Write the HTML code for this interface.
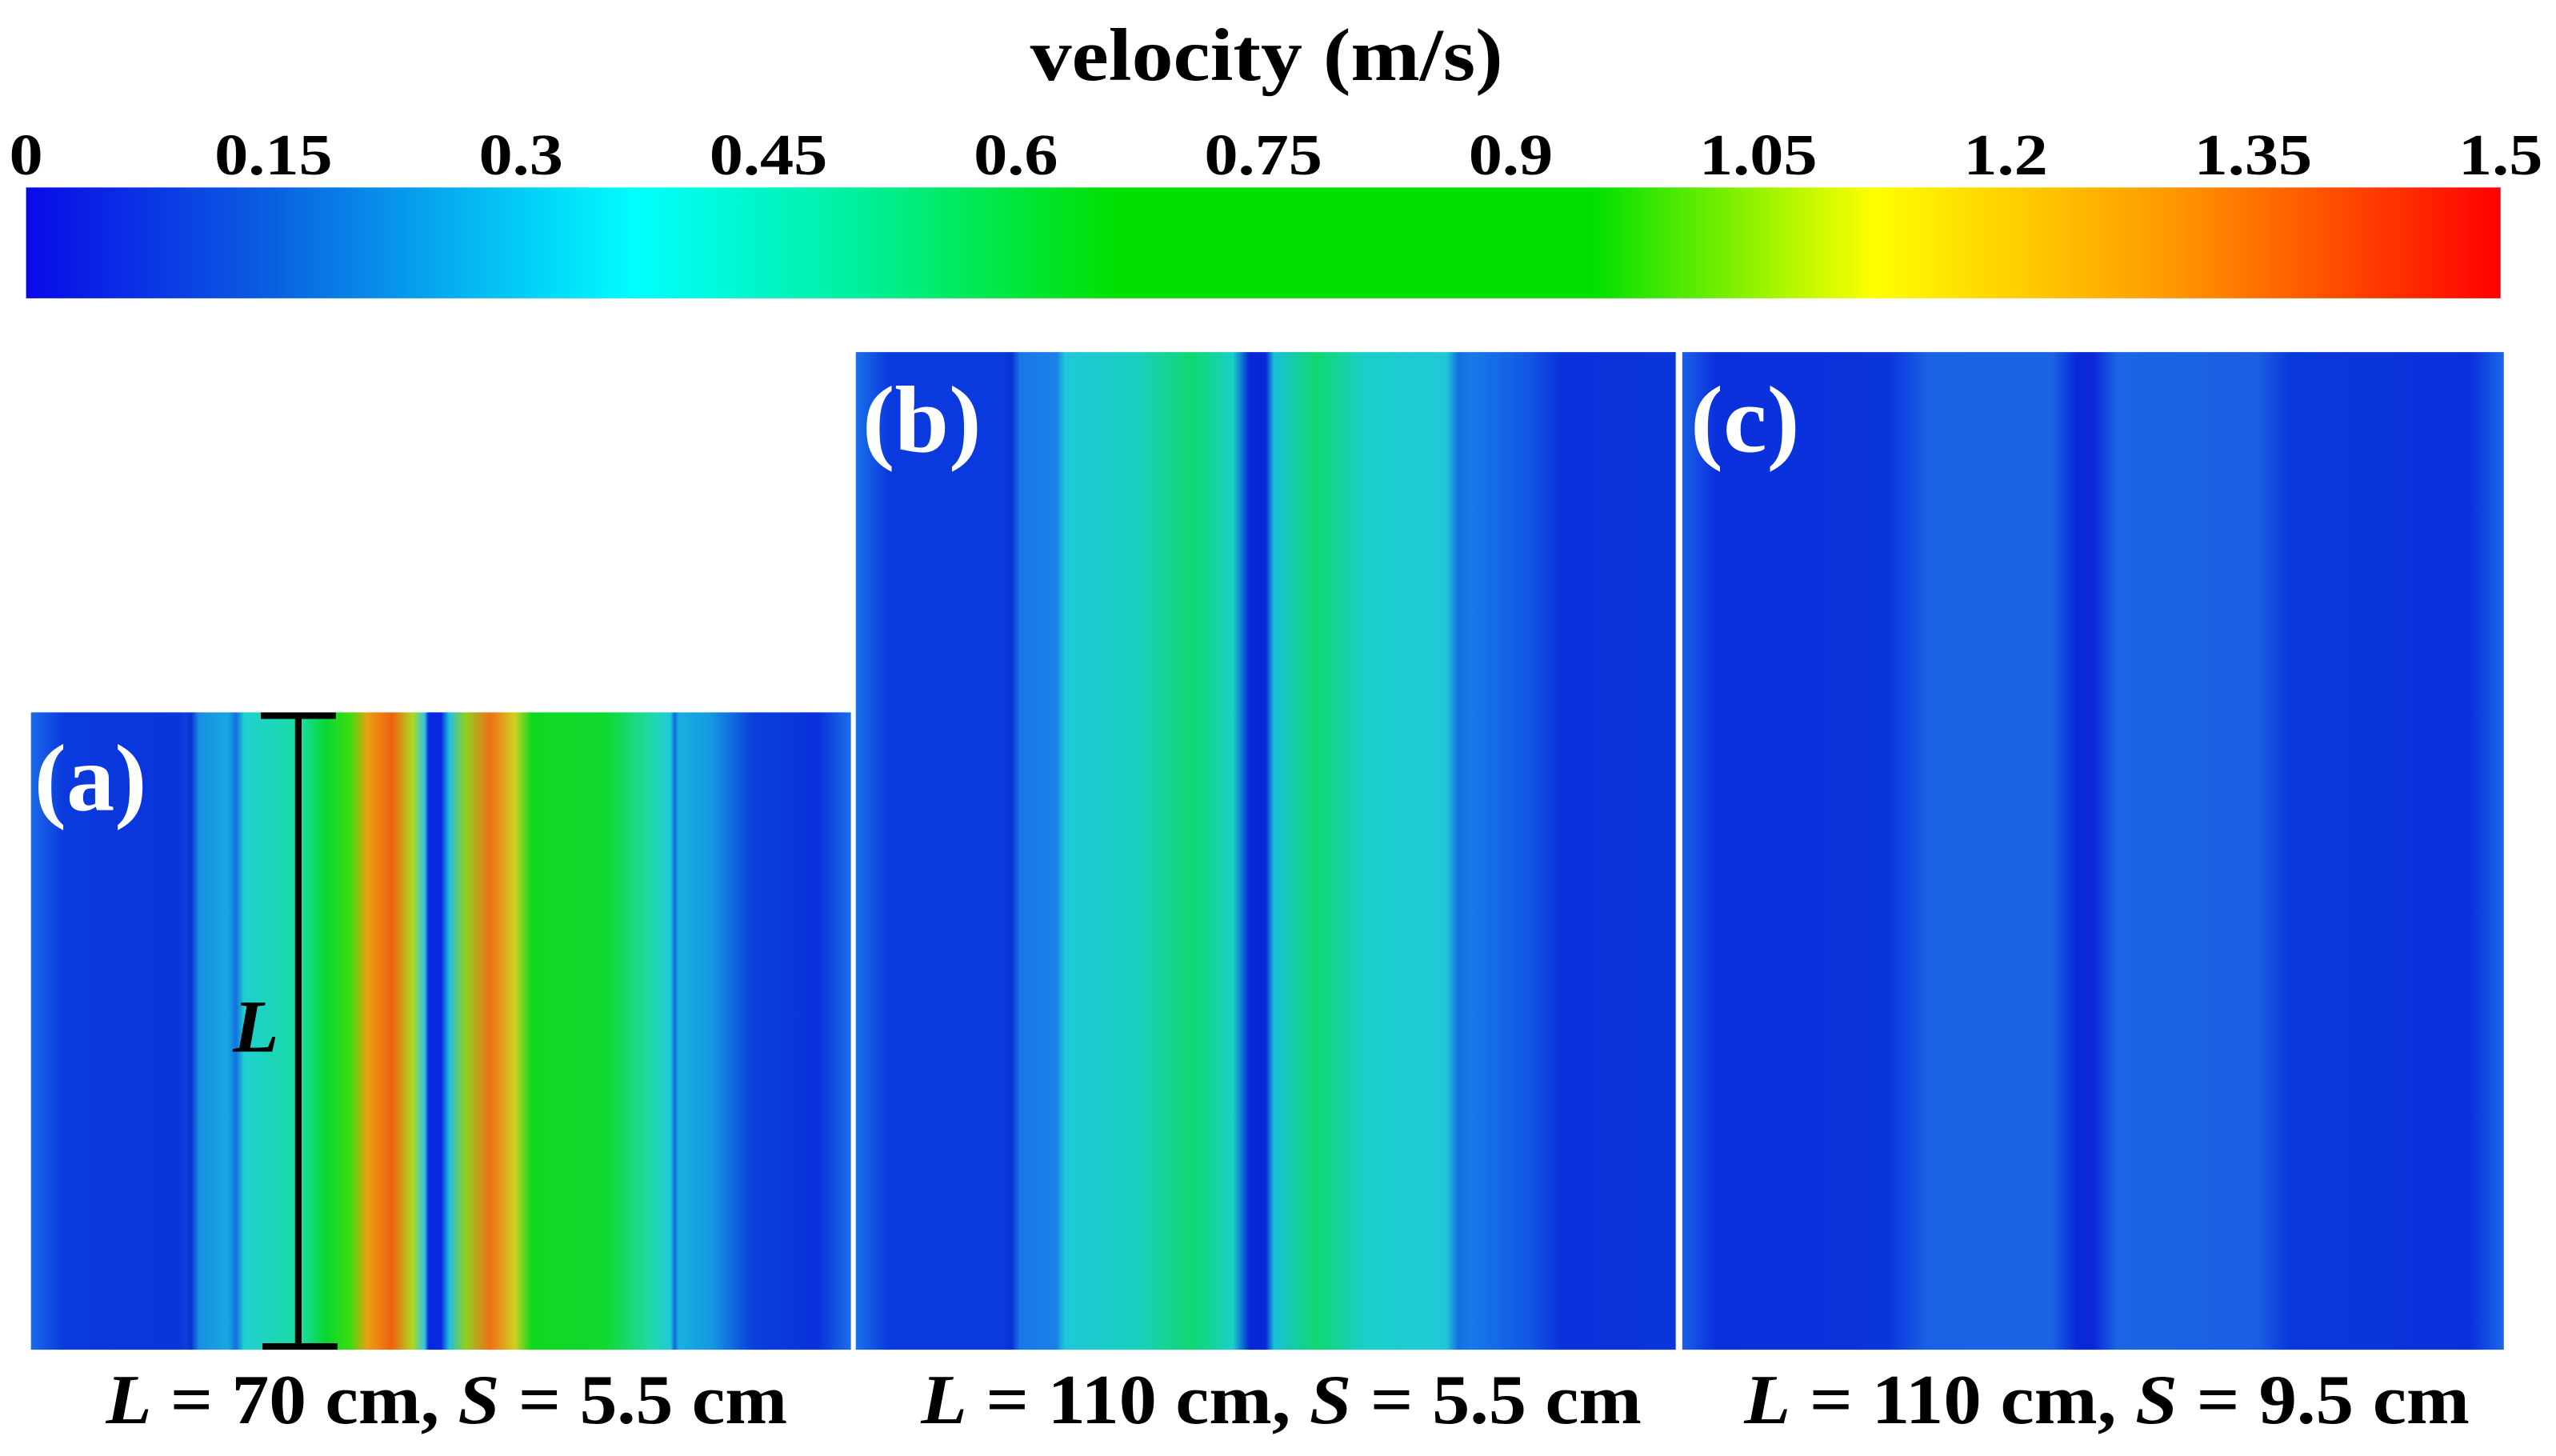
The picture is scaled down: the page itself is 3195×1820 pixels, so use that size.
<!DOCTYPE html>
<html><head><meta charset="utf-8"><style>
html,body{margin:0;padding:0;background:#fff;}
svg{display:block;}
text{font-family:"Liberation Serif",serif;font-weight:bold;}
</style></head><body>
<svg id="fig" width="3195" height="1820" viewBox="0 0 1568 893.2" xmlns="http://www.w3.org/2000/svg">
<defs>
<linearGradient id="cbar" x1="0" x2="1" y1="0" y2="0"></linearGradient>
<filter id="wob" x="0" y="0" width="1" height="1">
<feTurbulence type="fractalNoise" baseFrequency="0.01 0.025" numOctaves="2" seed="3" result="n"/>
<feDisplacementMap in="SourceGraphic" in2="n" scale="10" xChannelSelector="R" yChannelSelector="A"/>
</filter>
<linearGradient id="ga" x1="0" x2="1" y1="0" y2="0">
<stop offset="0" stop-color="#1a6ae8"/><stop offset="0.04" stop-color="#0a3ade"/><stop offset="0.18" stop-color="#0a34dc"/>
<stop offset="0.19" stop-color="#0c40d8"/><stop offset="0.195" stop-color="#0830d0"/><stop offset="0.205" stop-color="#1890e0"/>
<stop offset="0.24" stop-color="#18a8e0"/><stop offset="0.25" stop-color="#1070e0"/><stop offset="0.26" stop-color="#20d0d0"/>
<stop offset="0.33" stop-color="#18dca0"/><stop offset="0.36" stop-color="#08d830"/><stop offset="0.39" stop-color="#40dc10"/>
<stop offset="0.41" stop-color="#e8a010"/><stop offset="0.44" stop-color="#f06010"/><stop offset="0.465" stop-color="#b0d820"/>
<stop offset="0.48" stop-color="#30c8e0"/><stop offset="0.485" stop-color="#0828e0"/><stop offset="0.5" stop-color="#0828e0"/>
<stop offset="0.51" stop-color="#20c0e0"/><stop offset="0.53" stop-color="#90d020"/><stop offset="0.56" stop-color="#f07018"/>
<stop offset="0.59" stop-color="#d0d020"/><stop offset="0.61" stop-color="#10d820"/><stop offset="0.7" stop-color="#10d830"/>
<stop offset="0.76" stop-color="#20d8b0"/><stop offset="0.78" stop-color="#20c8d8"/><stop offset="0.785" stop-color="#1068e0"/>
<stop offset="0.79" stop-color="#18b0e0"/><stop offset="0.83" stop-color="#1498e0"/><stop offset="0.88" stop-color="#0a40dc"/>
<stop offset="0.96" stop-color="#0a30dc"/><stop offset="1" stop-color="#1a70e8"/>
</linearGradient>
<linearGradient id="gb" x1="0" x2="1" y1="0" y2="0">
<stop offset="0" stop-color="#1a70e8"/><stop offset="0.04" stop-color="#0a3ade"/><stop offset="0.18" stop-color="#0a3ade"/>
<stop offset="0.19" stop-color="#0830d0"/><stop offset="0.2" stop-color="#1878e8"/><stop offset="0.245" stop-color="#1a80e8"/>
<stop offset="0.255" stop-color="#20c8d8"/><stop offset="0.34" stop-color="#18d0c0"/><stop offset="0.41" stop-color="#10d870"/>
<stop offset="0.46" stop-color="#18d0c8"/><stop offset="0.48" stop-color="#0828d8"/><stop offset="0.5" stop-color="#0828d8"/>
<stop offset="0.51" stop-color="#18c0d8"/><stop offset="0.56" stop-color="#10d870"/><stop offset="0.62" stop-color="#18d0c8"/>
<stop offset="0.72" stop-color="#20c8d8"/><stop offset="0.735" stop-color="#1470e0"/><stop offset="0.75" stop-color="#1878e8"/>
<stop offset="0.82" stop-color="#1258e4"/><stop offset="0.86" stop-color="#0a32dc"/><stop offset="1" stop-color="#0a34dc"/>
</linearGradient>
<linearGradient id="gc" x1="0" x2="1" y1="0" y2="0">
<stop offset="0" stop-color="#1a60e8"/><stop offset="0.04" stop-color="#0a30dc"/><stop offset="0.25" stop-color="#0a34dc"/>
<stop offset="0.3" stop-color="#1a62e4"/><stop offset="0.45" stop-color="#1a64e4"/><stop offset="0.48" stop-color="#0a28d8"/>
<stop offset="0.5" stop-color="#0a28d8"/><stop offset="0.53" stop-color="#1a66e4"/><stop offset="0.7" stop-color="#1a5ee4"/>
<stop offset="0.74" stop-color="#0a38dc"/><stop offset="0.96" stop-color="#0a30dc"/><stop offset="1" stop-color="#1a68e8"/>
</linearGradient>
</defs>
<text x="777" y="49" font-size="46" text-anchor="middle" textLength="290" lengthAdjust="spacingAndGlyphs">velocity (m/s)</text>
<g id="ticks"></g>
<rect x="16" y="115" width="1518" height="68" fill="url(#cbar)"/>
<rect x="19" y="437" width="503" height="391" fill="url(#ga)"/>
<rect x="525" y="216" width="503" height="612" fill="url(#gb)"/>
<rect x="1032" y="216" width="504" height="612" fill="url(#gc)"/>
<g stroke="#000" stroke-width="4">
<line x1="160" y1="439" x2="206" y2="439"/><line x1="183" y1="439" x2="183" y2="826"/><line x1="161" y1="826" x2="207" y2="826"/>
</g>
<text x="157" y="645" font-size="46" font-style="italic" text-anchor="middle">L</text>
<text x="21" y="497" font-size="58" fill="#fff" textLength="69" lengthAdjust="spacingAndGlyphs">(a)</text>
<text x="529" y="277" font-size="58" fill="#fff" textLength="73" lengthAdjust="spacingAndGlyphs">(b)</text>
<text x="1037" y="277" font-size="58" fill="#fff" textLength="67" lengthAdjust="spacingAndGlyphs">(c)</text>
<text x="65" y="873" font-size="43" textLength="418" lengthAdjust="spacingAndGlyphs"><tspan font-style="italic">L</tspan> = 70 cm, <tspan font-style="italic">S</tspan> = 5.5 cm</text>
<text x="565" y="873" font-size="43" textLength="442" lengthAdjust="spacingAndGlyphs"><tspan font-style="italic">L</tspan> = 110 cm, <tspan font-style="italic">S</tspan> = 5.5 cm</text>
<text x="1070" y="873" font-size="43" textLength="445" lengthAdjust="spacingAndGlyphs"><tspan font-style="italic">L</tspan> = 110 cm, <tspan font-style="italic">S</tspan> = 9.5 cm</text>
</svg>
<script>
var tickValues = [0, 0.15, 0.3, 0.45, 0.6, 0.75, 0.9, 1.05, 1.2, 1.35, 1.5];
var tickLabels = ["0", "0.15", "0.3", "0.45", "0.6", "0.75", "0.9", "1.05", "1.2", "1.35", "1.5"];
var stopValues = [0, 0.15, 0.37, 0.5, 0.66, 0.95, 1.12, 1.3, 1.5];
var stopColors = ["#0a0ae8", "#0a60e0", "#00ffff", "#00f0a0", "#00e000", "#00e000", "#ffff00", "#ff9900", "#ff0000"];
var NS = "http://www.w3.org/2000/svg";
function xScale(v) { return 16 + v / 1.5 * 1518; }
var g = document.getElementById("ticks");
for (var i = 0; i < tickValues.length; i++) {
  var t = document.createElementNS(NS, "text");
  t.setAttribute("x", xScale(tickValues[i]));
  t.setAttribute("y", 107);
  t.setAttribute("font-size", 36);
  t.setAttribute("text-anchor", "middle");
  t.setAttribute("transform", "translate(" + xScale(tickValues[i]) + ",0) scale(1.15,1) translate(" + (-xScale(tickValues[i])) + ",0)");
  t.textContent = tickLabels[i];
  
  
  g.appendChild(t);
}
var cb = document.getElementById("cbar");
for (var j = 0; j < stopValues.length; j++) {
  var s = document.createElementNS(NS, "stop");
  s.setAttribute("offset", stopValues[j] / 1.5);
  s.setAttribute("stop-color", stopColors[j]);
  cb.appendChild(s);
}
</script>
</body></html>
